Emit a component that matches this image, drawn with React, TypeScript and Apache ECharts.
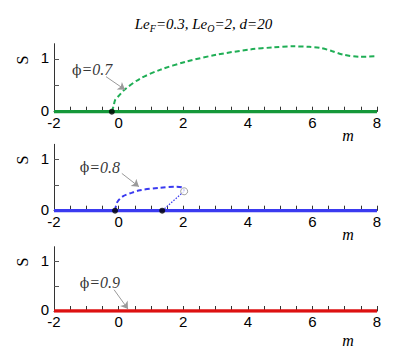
import React, { useEffect, useRef } from "react";
import * as echarts from "echarts";

const xRange = [-2, 8];
const xLabels = [-2, 0, 2, 4, 6, 8];
const yLabels = [0, 1];
const yTicks = [0, 0.5, 1];

const baseLine = [[-2, 0], [8, 0]];

// phi = 0.7 branch (green)
const greenCurve = [
  [-0.21, 0], [-0.15, 0.12], [-0.11, 0.22], [0.0, 0.3], [0.2, 0.43], [0.66, 0.63], [1.28, 0.8],
  [2.11, 0.96], [3.04, 1.09], [4.07, 1.19], [4.8, 1.23], [5.41, 1.25], [5.9, 1.24], [6.24, 1.22],
  [6.6, 1.16], [6.96, 1.09], [7.47, 1.05], [8.0, 1.06],
];
const greenDots = [[-0.21, 0]];

// phi = 0.8 branch (blue)
const blueCurve = [
  [-0.11, 0], [-0.08, 0.1], [-0.03, 0.18], [0.13, 0.28], [0.4, 0.35], [0.66, 0.4], [1.28, 0.45],
  [1.8, 0.47], [1.99, 0.45], [2.03, 0.38],
];
const blueDotted = [[1.35, 0], [2.03, 0.38]];
const blueDots = [[-0.11, 0], [1.35, 0]];
const blueOpen = [[2.03, 0.38]];

const labels = ["0.7", "0.8", "0.9"];
const labelPos = [[-0.82, 0.8], [-0.58, 0.85], [-0.58, 0.57]];
const arrows = [
  [[-0.39, 0.67], [0.2, 0.42]],
  [[0.1, 0.73], [0.63, 0.47]],
  [[-0.14, 0.43], [0.29, 0.04]],
];

const colors = {
  green: "#15983a",
  greenDash: "#1fae55",
  blue: "#3a3af0",
  red: "#dd1111",
};

const grids = [
  { left: 54, right: 30, top: 43.7, height: 68 },
  { left: 54, right: 30, top: 144.3, height: 66.4 },
  { left: 54, right: 30, top: 246.7, height: 64.3 },
];

export default function App() {
  const ref = useRef<HTMLDivElement>(null);
  useEffect(() => {
    if (!ref.current) return;
    const chart = echarts.init(ref.current, null, { renderer: "svg" });
    const labelFont = "'Liberation Sans', Arial, sans-serif";
    const serif = "'Liberation Serif', 'Times New Roman', serif";

    const xAxes = grids.map((_, i) => ({
      type: "value",
      gridIndex: i,
      min: xRange[0],
      max: xRange[1],
      interval: 2,
      axisLine: { show: true, onZero: false, lineStyle: { color: "#333", width: 1 } },
      axisTick: { show: true, inside: true, length: 5, lineStyle: { color: "#333" } },
      minorTick: { show: true, splitNumber: 4, length: 5, lineStyle: { color: "#333" } },
      axisLabel: {
        show: true,
        margin: 3,
        color: "#000",
        fontSize: 15,
        fontFamily: labelFont,
        customValues: xLabels,
      },
      splitLine: { show: false },
      minorSplitLine: { show: false },
    }));
    const yAxes = grids.map((_, i) => ({
      type: "value",
      gridIndex: i,
      min: 0,
      max: 1.3,
      axisLine: { show: true, onZero: false, lineStyle: { color: "#333", width: 1 } },
      axisTick: { show: true, inside: true, length: 5, customValues: yTicks, lineStyle: { color: "#555" } },
      axisLabel: {
        show: true,
        margin: 5,
        color: "#000",
        fontSize: 15,
        fontFamily: labelFont,
        customValues: yLabels,
        verticalAlign: "bottom",
        padding: [0, 0, -6, 0],
      },
      splitLine: { show: false },
    }));

    const baseColors = [colors.green, colors.blue, colors.red];
    const series: any[] = [];
    baseColors.forEach((c, i) => {
      series.push({
        type: "line",
        xAxisIndex: i,
        yAxisIndex: i,
        data: baseLine,
        symbol: "none",
        lineStyle: { color: c, width: 3.5 },
        z: 3,
      });
      series.push({
        type: "lines",
        coordinateSystem: "cartesian2d",
        xAxisIndex: i,
        yAxisIndex: i,
        symbol: ["none", "arrow"],
        symbolSize: 7,
        silent: true,
        lineStyle: { color: "#9a9a9a", width: 1, type: "solid", opacity: 1 },
        data: [{ coords: arrows[i] }],
        z: 5,
      });
      series.push({
        type: "scatter",
        xAxisIndex: i,
        yAxisIndex: i,
        data: [labelPos[i]],
        symbolSize: 1,
        itemStyle: { color: "transparent" },
        silent: true,
        label: {
          show: true,
          position: "inside",
          formatter: "{p|\u03d5}{i|=" + labels[i] + "}",
          rich: {
            p: { fontFamily: "'DejaVu Serif', serif", fontSize: 14, color: "#000" },
            i: { fontFamily: serif, fontStyle: "italic", fontSize: 16, color: "#000" },
          },
        },
        z: 5,
      });
    });

    series.push({
      type: "line",
      xAxisIndex: 0,
      yAxisIndex: 0,
      data: greenCurve,
      symbol: "none",
      smooth: 0.3,
      lineStyle: { color: colors.greenDash, width: 2, type: [5, 3] },
      z: 4,
    });
    series.push({
      type: "scatter",
      xAxisIndex: 0,
      yAxisIndex: 0,
      data: greenDots,
      symbolSize: 6,
      itemStyle: { color: "#000" },
      z: 6,
    });
    series.push({
      type: "line",
      xAxisIndex: 1,
      yAxisIndex: 1,
      data: blueCurve,
      symbol: "none",
      smooth: 0.3,
      lineStyle: { color: colors.blue, width: 2, type: [5, 3] },
      z: 4,
    });
    series.push({
      type: "line",
      xAxisIndex: 1,
      yAxisIndex: 1,
      data: blueDotted,
      symbol: "none",
      lineStyle: { color: colors.blue, width: 1.2, type: [1.5, 1.5] },
      z: 4,
    });
    series.push({
      type: "scatter",
      xAxisIndex: 1,
      yAxisIndex: 1,
      data: blueDots,
      symbolSize: 6,
      itemStyle: { color: "#000" },
      z: 6,
    });
    series.push({
      type: "scatter",
      xAxisIndex: 1,
      yAxisIndex: 1,
      data: blueOpen,
      symbolSize: 7,
      itemStyle: { color: "#fff", borderColor: "#888", borderWidth: 1 },
      z: 6,
    });

    const graphic: any[] = [];
    const sY = [60, 160, 262];
    const mY = [135, 234, 340];
    sY.forEach((y) => {
      graphic.push({
        type: "text",
        x: 22,
        y,
        rotation: Math.PI / 2,
        style: {
          text: "S",
          font: "16px " + serif,
          fill: "#000",
          align: "center",
          verticalAlign: "middle",
        },
      });
    });
    mY.forEach((y) => {
      graphic.push({
        type: "text",
        x: 348,
        y,
        style: {
          text: "m",
          font: "italic 16px " + serif,
          fill: "#000",
          align: "center",
          verticalAlign: "middle",
        },
      });
    });

    chart.setOption({
      animation: false,
      backgroundColor: "#fff",
      title: {
        left: "center",
        top: 10,
        text: "{i|Le}{s|F}{i|=0.3, Le}{s|O}{i|=2, d=20}",
        textStyle: {
          fontWeight: "normal",
          rich: {
            i: { fontFamily: serif, fontStyle: "italic", fontWeight: "normal", fontSize: 15, color: "#000", lineHeight: 18 },
            s: { fontFamily: serif, fontStyle: "italic", fontWeight: "normal", fontSize: 10, color: "#000", lineHeight: 18, verticalAlign: "bottom", padding: [8, 0, 0, 0] },
          },
        },
      },
      grid: grids,
      xAxis: xAxes,
      yAxis: yAxes,
      series,
      graphic,
    });
    return () => chart.dispose();
  }, []);
  return <div ref={ref} style={{ width: 407, height: 350, position: "absolute", left: 0, top: 0 }} />;
}
